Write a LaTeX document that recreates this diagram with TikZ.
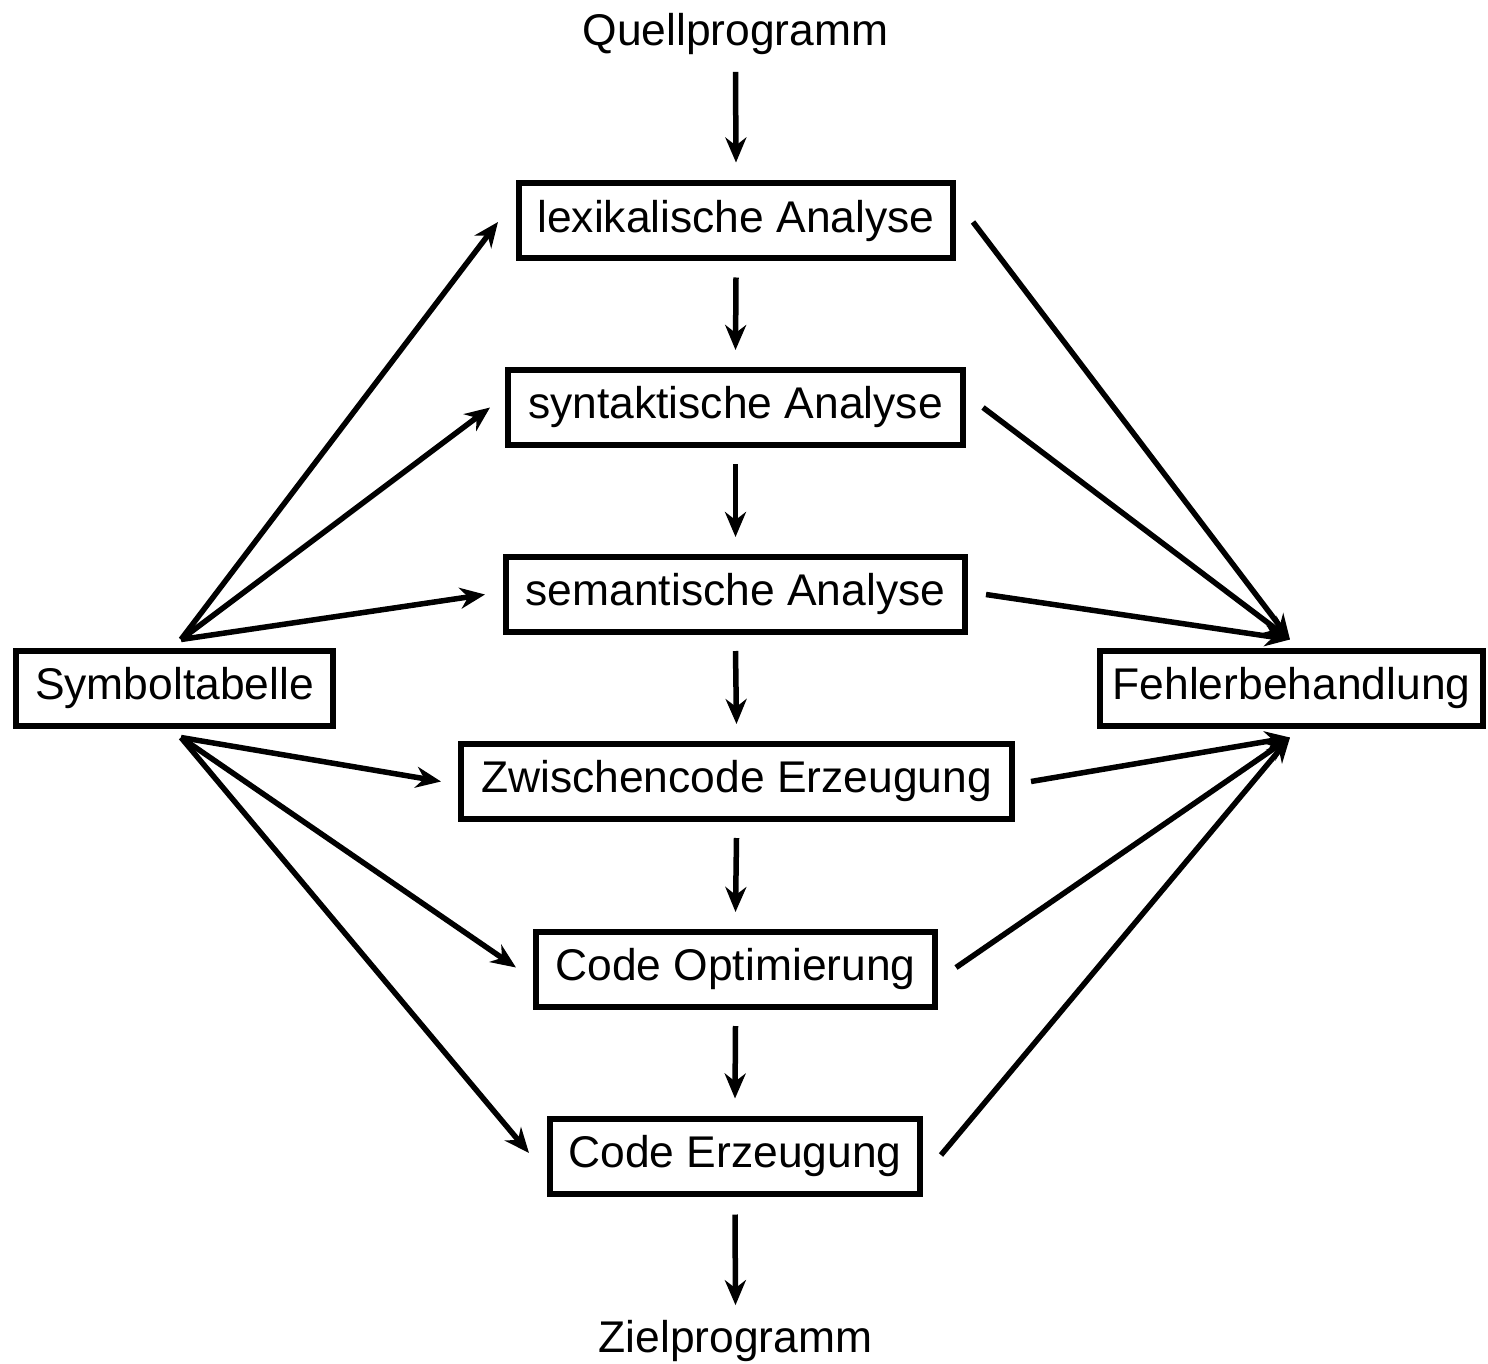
\documentclass[tikz,border=0pt]{standalone}
\usepackage{fontspec}
\setmainfont{Liberation Sans}
\usetikzlibrary{arrows.meta}
\begin{document}
\begin{tikzpicture}[x=1pt,y=-1pt,
  txt/.style={inner sep=0pt, font=\fontsize{44.4}{53}\selectfont, text height=32pt, text depth=9.3pt},
  box/.style={txt, draw, line width=6pt, minimum height=75pt},
  arr/.style={line width=5.5pt, -{Stealth[length=25pt,width=21pt,inset=8pt]}}]
\useasboundingbox (0,0) rectangle (1488,1364);
\node[txt] (q) at (735.5,34) {Quellprogramm};
\node[box, minimum width=434pt] (lex) at (736,221) {lexikalische Analyse};
\node[box, minimum width=455pt] (syn) at (735.5,407.5) {syntaktische Analyse};
\node[box, minimum width=459pt] (sem) at (735.5,594.5) {semantische Analyse};
\node[box, minimum width=551pt] (zw) at (736.5,781.5) {Zwischencode Erzeugung};
\node[box, minimum width=399pt] (co) at (735.5,969.5) {Code Optimierung};
\node[box, minimum width=370pt] (ce) at (735,1156) {Code Erzeugung};
\node[txt] (z) at (735.5,1341) {Zielprogramm};
\node[box, minimum width=317pt] (sym) at (174.5,688) {Symboltabelle};
\node[box, minimum width=383pt] (feh) at (1291.5,688) {Fehlerbehandlung};
% vertical flow
\draw[arr] ([yshift=-17pt]q.south) -- ([yshift=18pt]lex.north);
\draw[arr] ([yshift=-16pt]lex.south) -- ([yshift=17pt]syn.north);
\draw[arr] ([yshift=-16pt]syn.south) -- ([yshift=17pt]sem.north);
\draw[arr] ([yshift=-16pt]sem.south) -- ([yshift=17pt]zw.north);
\draw[arr] ([yshift=-16pt]zw.south) -- ([yshift=17pt]co.north);
\draw[arr] ([yshift=-16pt]co.south) -- ([yshift=17pt]ce.north);
\draw[arr] ([yshift=-18pt]ce.south) -- ([yshift=15pt]z.north);
% from Symboltabelle
\draw[arr] ([shift={(6.5pt,8pt)}]sym.north) -- ([shift={(-18pt,-1pt)}]lex.west);
\draw[arr] ([shift={(6.5pt,8pt)}]sym.north) -- ([shift={(-15pt,0pt)}]syn.west);
\draw[arr] ([shift={(6.5pt,8pt)}]sym.north) -- ([shift={(-18pt,0pt)}]sem.west);
\draw[arr] ([shift={(6.5pt,-9pt)}]sym.south) -- ([shift={(-17pt,0pt)}]zw.west);
\draw[arr] ([shift={(6.5pt,-9pt)}]sym.south) -- ([shift={(-17pt,2pt)}]co.west);
\draw[arr] ([shift={(6.5pt,-9pt)}]sym.south) -- ([shift={(-18pt,3pt)}]ce.west);
% to Fehlerbehandlung
\draw[arr] ([shift={(17pt,-1pt)}]lex.east) -- ([shift={(-1.5pt,8pt)}]feh.north);
\draw[arr] ([shift={(17pt,0pt)}]syn.east) -- ([shift={(-1.5pt,8pt)}]feh.north);
\draw[arr] ([shift={(18pt,0pt)}]sem.east) -- ([shift={(-1.5pt,8pt)}]feh.north);
\draw[arr] ([shift={(16pt,0pt)}]zw.east) -- ([shift={(-1.5pt,-9pt)}]feh.south);
\draw[arr] ([shift={(18pt,2pt)}]co.east) -- ([shift={(-1.5pt,-9pt)}]feh.south);
\draw[arr] ([shift={(18pt,1pt)}]ce.east) -- ([shift={(-1.5pt,-9pt)}]feh.south);
\end{tikzpicture}
\end{document}
